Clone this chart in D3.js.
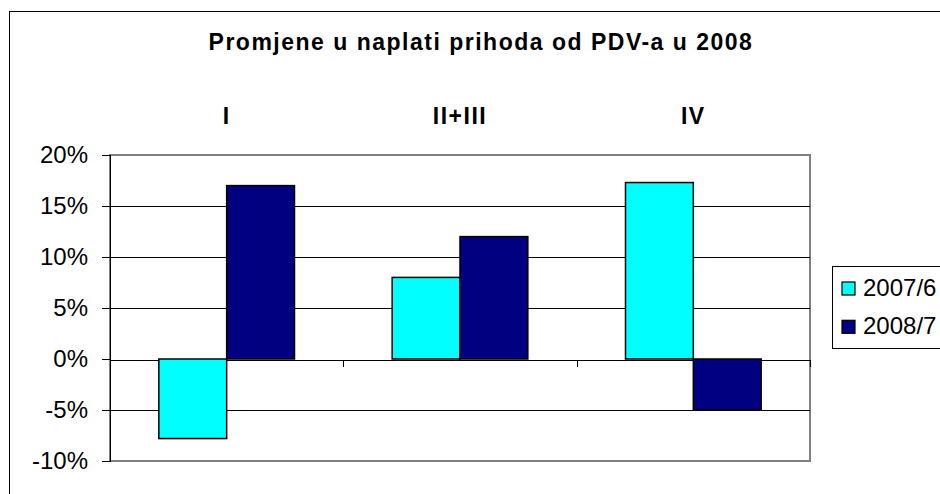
<!DOCTYPE html>
<html>
<head>
<meta charset="utf-8">
<script src="https://cdn.jsdelivr.net/npm/d3@7"></script>
<style>
	body { margin: 0; background: #fff; }
	svg { display: block; font-family: "Liberation Sans", Arial, sans-serif; }
	.grid line, .axis line, .axis path { shape-rendering: crispEdges; }
</style>
</head>
<body>
<svg id="chart" width="940" height="494"></svg>
<script>
var title = "Promjene u naplati prihoda od PDV-a u 2008";
var categories = ["I", "II+III", "IV"];
var seriesNames = ["2007/6", "2008/7"];
var values2007 = [-0.078, 0.080, 0.173];
var values2008 = [0.170, 0.120, -0.050];
var yTicks = [-0.10, -0.05, 0, 0.05, 0.10, 0.15, 0.20];

var colors = {"2007/6": "#00ffff", "2008/7": "#000080"};

var plot = {left: 110, right: 810, top: 155, bottom: 461};

var svg = d3.select("#chart");

// plain hyphen for negatives, as in the original
var locale = d3.formatLocale({
	decimal: ".", thousands: ",", grouping: [3],
	currency: ["", ""], minus: "-"
});
var percentFormat = locale.format(".0%");

// outer chart frame, runs off the right and bottom edges like the original
svg.append("rect")
	.attr("x", 9.5).attr("y", 11.5)
	.attr("width", 980).attr("height", 520)
	.attr("fill", "#fff")
	.attr("stroke", "#000")
	.attr("stroke-width", 1);

var x0 = d3.scaleBand()
	.domain(categories)
	.range([plot.left, plot.right])
	.padding(0);

var x1 = d3.scaleBand()
	.domain(seriesNames)
	.range([0, x0.bandwidth()])
	.paddingInner(0)
	.paddingOuter(0.72);

var y = d3.scaleLinear()
	.domain([-0.10, 0.20])
	.range([plot.bottom, plot.top]);

var rows = categories.map(function(c, i){
	return {category: c, values: [
		{series: seriesNames[0], value: values2007[i]},
		{series: seriesNames[1], value: values2008[i]},
	]};
});

// plot area border
svg.append("rect")
	.attr("x", plot.left).attr("y", plot.top)
	.attr("width", plot.right - plot.left)
	.attr("height", plot.bottom - plot.top)
	.attr("fill", "#fff")
	.attr("stroke", "#808080")
	.attr("stroke-width", 2);

// horizontal rules
svg.append("g")
	.attr("class", "grid")
	.selectAll("line")
	.data(yTicks.filter(function(t){ return t > -0.1 && t < 0.2 && t !== 0; }))
	.join("line")
	.attr("x1", plot.left).attr("x2", plot.right)
	.attr("y1", function(d){ return Math.round(y(d)) + 0.5; })
	.attr("y2", function(d){ return Math.round(y(d)) + 0.5; })
	.attr("stroke", "#000");

// y axis on the left
var yAxis = d3.axisLeft(y)
	.tickValues(yTicks)
	.tickSize(8)
	.tickPadding(14)
	.tickFormat(percentFormat);

var yG = svg.append("g")
	.attr("class", "axis y")
	.attr("transform", "translate(" + plot.left + ",0)")
	.call(yAxis);
yG.select(".domain").attr("stroke", "#000");
yG.selectAll("text")
	.attr("font-size", 24)
	.attr("font-family", "Liberation Sans, Arial, sans-serif")
	.attr("fill", "#000");

// category axis along zero, ticks between the groups
var xEdges = d3.scaleLinear()
	.domain([0, categories.length])
	.range([plot.left, plot.right]);

var xAxis = d3.axisBottom(xEdges)
	.tickValues(d3.range(categories.length + 1))
	.tickSize(7)
	.tickSizeOuter(0)
	.tickFormat("");

svg.append("g")
	.attr("class", "axis x")
	.attr("transform", "translate(0," + (Math.round(y(0)) + 0.5) + ")")
	.call(xAxis)
	.selectAll("path, line").attr("stroke", "#000");

// bars
var groups = svg.append("g")
	.selectAll("g")
	.data(rows)
	.join("g")
	.attr("transform", function(d){ return "translate(" + x0(d.category) + ",0)"; });

groups.selectAll("rect")
	.data(function(d){ return d.values; })
	.join("rect")
	.attr("x", function(d){ return x1(d.series); })
	.attr("y", function(d){ return y(Math.max(0, d.value)); })
	.attr("width", x1.bandwidth())
	.attr("height", function(d){ return Math.abs(y(d.value) - y(0)); })
	.attr("fill", function(d){ return colors[d.series]; })
	.attr("stroke", "#000")
	.attr("stroke-width", 1.5);

// category labels above the plot
svg.append("g")
	.selectAll("text")
	.data(categories)
	.join("text")
	.attr("x", function(d){ return x0(d) + x0.bandwidth() / 2; })
	.attr("y", 124)
	.attr("text-anchor", "middle")
	.attr("font-size", 23)
	.attr("font-weight", "bold")
	.attr("letter-spacing", 1.5)
	.text(function(d){ return d; });

// title
svg.append("text")
	.attr("x", 481)
	.attr("y", 50)
	.attr("text-anchor", "middle")
	.attr("font-size", 23)
	.attr("font-weight", "bold")
	.attr("letter-spacing", 1.5)
	.text(title);

// legend
var legend = svg.append("g")
	.attr("transform", "translate(832,266)");

legend.append("rect")
	.attr("x", 0.5).attr("y", 0.5)
	.attr("width", 140).attr("height", 82)
	.attr("fill", "#fff")
	.attr("stroke", "#000");

var items = legend.selectAll("g.item")
	.data(seriesNames)
	.join("g")
	.attr("class", "item")
	.attr("transform", function(d, i){ return "translate(10," + (16 + i * 38.3) + ")"; });

items.append("rect")
	.attr("width", 13).attr("height", 13)
	.attr("fill", function(d){ return colors[d]; })
	.attr("stroke", "#000")
	.attr("stroke-width", 1.2);

items.append("text")
	.attr("x", 21)
	.attr("y", 14)
	.attr("font-size", 24)
	.attr("fill", "#000")
	.text(function(d){ return d; });
</script>
</body>
</html>
